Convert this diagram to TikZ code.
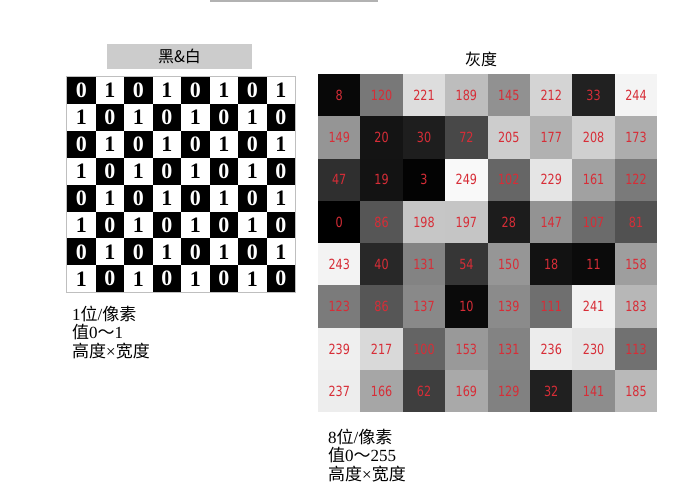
\documentclass[tikz,border=0pt]{standalone}
\usepackage{fontspec}
\setmainfont{Liberation Serif}
\newfontfamily\cjk{Noto Sans CJK SC}
\newfontfamily\numfont{DejaVu Sans}
\definecolor{numred}{RGB}{215,45,55}
\definecolor{hdrgray}{RGB}{204,204,204}
\begin{document}
\begin{tikzpicture}[x=1pt,y=-1pt,
  chk/.style={minimum width=28.5pt,minimum height=26.9pt,inner sep=0pt,
    font=\fontsize{22}{22}\selectfont\bfseries},
  gcell/.style={minimum width=42.5pt,minimum height=42.4pt,inner sep=0pt,
    text=numred,font=\numfont\fontsize{14}{14}\selectfont},
  lbl/.style={anchor=west,inner sep=0pt,font=\fontsize{17}{17}\selectfont},
  ttl/.style={inner sep=0pt,font=\cjk\fontsize{16}{16}\selectfont}]
\useasboundingbox (0,0) rectangle (687,498);
\fill[white] (0,0) rectangle (687,498);
% top line
\coordinate (tl1) at (210,1);
\coordinate (tl2) at (378,1);
\draw[gray!60,line width=1.5pt] (tl1) -- (tl2);
% header box
\node[fill=hdrgray,minimum width=145pt,minimum height=25pt,inner sep=0pt] (hdr) at (179.5,56.5) {};
\node[ttl] (hdrt) at (hdr) {黑\&白};
% checkerboard
\foreach \r in {0,...,7}{
  \foreach \c in {0,...,7}{
    \pgfmathtruncatemacro{\myparity}{mod(\r+\c,2)}
    \ifnum\myparity=0
      \node[chk,fill=black,text=white] (k-\r-\c) at ({67+28.5*(\c+0.5)},{77+26.9*(\r+0.5)}) {0};
    \else
      \node[chk,text=black] (k-\r-\c) at ({67+28.5*(\c+0.5)},{77+26.9*(\r+0.5)}) {1};
    \fi
  }
}
\draw[gray!50,line width=0.8pt] (k-0-0.north west) rectangle (k-7-7.south east);
% grayscale grid
\node[ttl] (gt) at (481,59) {灰度};
\foreach \r/\vals in {
  0/{8,120,221,189,145,212,33,244},
  1/{149,20,30,72,205,177,208,173},
  2/{47,19,3,249,102,229,161,122},
  3/{0,86,198,197,28,147,107,81},
  4/{243,40,131,54,150,18,11,158},
  5/{123,86,137,10,139,111,241,183},
  6/{239,217,100,153,131,236,230,113},
  7/{237,166,62,169,129,32,141,185}}{
  \foreach \v [count=\c from 0] in \vals {
    \node[gcell,fill={rgb,255:red,\v;green,\v;blue,\v}] (g-\r-\c)
      at ({318+42.4*(\c+0.5)},{74+42.3*(\r+0.5)}) {\scalebox{0.8}[1]{\v}};
  }
}
% labels
\node[lbl] (l1) at (72,314) {1{\cjk 位}/{\cjk 像素}};
\node[lbl] (l2) at (72,332.5) {{\cjk 值}0{\cjk ～}1};
\node[lbl] (l3) at (72,351) {{\cjk 高度}×{\cjk 宽度}};
\node[lbl] (r1) at (328,437) {8{\cjk 位}/{\cjk 像素}};
\node[lbl] (r2) at (328,455.5) {{\cjk 值}0{\cjk ～}255};
\node[lbl] (r3) at (328,474) {{\cjk 高度}×{\cjk 宽度}};
\end{tikzpicture}
\end{document}
